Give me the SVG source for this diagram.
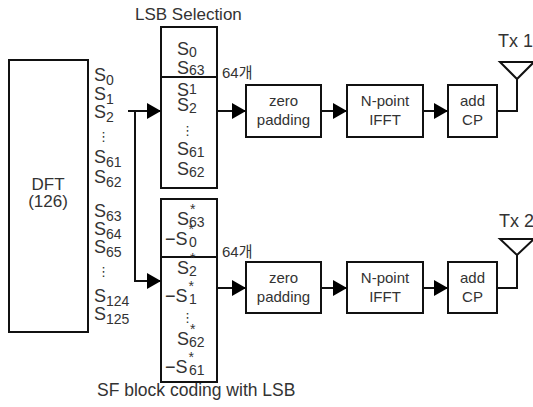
<svg xmlns="http://www.w3.org/2000/svg" width="533" height="407" viewBox="0 0 533 407">
<defs>
<marker id="ah" markerUnits="userSpaceOnUse" markerWidth="15" markerHeight="16" refX="14" refY="8" orient="auto">
<path d="M0,0 L14,8 L0,16 Z" fill="#000"/>
</marker>
<style>
text{font-family:"Liberation Sans","Noto Sans CJK KR",sans-serif;fill:#333;}
.box{fill:#fff;stroke:#111;stroke-width:2;}
.ln{fill:none;stroke:#111;stroke-width:2;}
.s{font-size:18px;}
.sub{font-size:14px;}
.bt{font-size:15px;text-anchor:middle;}
.lbl{font-size:17px;}
.dots{font-family:"DejaVu Sans",sans-serif;font-size:13px;}
.star{font-size:14px;}
</style>
</defs>
<rect width="533" height="407" fill="#fff"/>

<g id="dft">
<rect class="box" x="9" y="60" width="79" height="272"/>
<text class="lbl" x="48" y="190" text-anchor="middle">DFT</text>
<text class="lbl" x="48" y="207" text-anchor="middle">(126)</text>
</g>

<g id="dft-outputs">
<text class="s" x="94" y="81">S<tspan class="sub" dy="4">0</tspan></text>
<text class="s" x="94" y="100">S<tspan class="sub" dy="4">1</tspan></text>
<text class="s" x="94" y="118">S<tspan class="sub" dy="4">2</tspan></text>
<text class="dots" x="97" y="141">⋮</text>
<text class="s" x="94" y="163">S<tspan class="sub" dy="4">61</tspan></text>
<text class="s" x="94" y="183">S<tspan class="sub" dy="4">62</tspan></text>
<text class="s" x="94" y="217">S<tspan class="sub" dy="4">63</tspan></text>
<text class="s" x="94" y="235">S<tspan class="sub" dy="4">64</tspan></text>
<text class="s" x="94" y="253">S<tspan class="sub" dy="4">65</tspan></text>
<text class="dots" x="97" y="276">⋮</text>
<text class="s" x="94" y="302">S<tspan class="sub" dy="4">124</tspan></text>
<text class="s" x="94" y="320">S<tspan class="sub" dy="4">125</tspan></text>
</g>

<g id="lsb">
<text class="lbl" x="135" y="20">LSB Selection</text>
<rect class="box" x="161" y="27" width="56" height="161"/>
<line class="ln" x1="161" y1="77" x2="217" y2="77"/>
<text class="s" x="177" y="55">S<tspan class="sub" dy="2">0</tspan></text>
<text class="s" x="177" y="74">S<tspan class="sub" dy="1">63</tspan></text>
<text class="s" x="177" y="96">S<tspan class="sub" dy="-2">1</tspan></text>
<text class="s" x="177" y="111">S<tspan class="sub" dy="2">2</tspan></text>
<text class="dots" x="181" y="135">⋮</text>
<text class="s" x="177" y="155">S<tspan class="sub" dy="2">61</tspan></text>
<text class="s" x="177" y="175">S<tspan class="sub" dy="2">62</tspan></text>
<text x="222" y="78" font-size="15">64개</text>
</g>

<g id="sf">
<rect class="box" x="161" y="199" width="56" height="183"/>
<line class="ln" x1="161" y1="257" x2="217" y2="257"/>
<text class="s" x="177" y="225">S<tspan class="star" dx="1" dy="-11">*</tspan><tspan class="sub" x="189" dy="13">63</tspan></text>
<text class="s" x="165" y="245">−S<tspan class="star" dx="1" dy="-11">*</tspan><tspan class="sub" x="189" dy="13">0</tspan></text>
<text class="s" x="177" y="274">S<tspan class="star" dx="1" dy="-11">*</tspan><tspan class="sub" x="189" dy="13">2</tspan></text>
<text class="s" x="165" y="302">−S<tspan class="star" dx="1" dy="-11">*</tspan><tspan class="sub" x="189" dy="13">1</tspan></text>
<text class="dots" x="181" y="322">⋮</text>
<text class="s" x="177" y="345">S<tspan class="star" dx="1" dy="-11">*</tspan><tspan class="sub" x="189" dy="13">62</tspan></text>
<text class="s" x="165" y="373">−S<tspan class="star" dx="1" dy="-11">*</tspan><tspan class="sub" x="189" dy="13">61</tspan></text>
<text x="222" y="257" font-size="15">64개</text>
<text x="97" y="396" font-size="17.5">SF block coding with LSB</text>
</g>

<g id="zp1">
<rect class="box" x="246" y="85" width="75" height="52"/>
<text class="bt" x="283.5" y="106">zero</text>
<text class="bt" x="283.5" y="125">padding</text>
</g>
<g id="ifft1">
<rect class="box" x="347" y="85" width="76" height="52"/>
<text class="bt" x="385" y="106">N-point</text>
<text class="bt" x="385" y="125">IFFT</text>
</g>
<g id="cp1">
<rect class="box" x="448" y="85" width="49" height="52"/>
<text class="bt" x="472.5" y="106">add</text>
<text class="bt" x="472.5" y="125">CP</text>
</g>
<g id="ant1">
<path class="ln" d="M500,62 L534,62 L517,79 Z"/>
<text x="498" y="47" font-size="18">Tx 1</text>
</g>

<g id="zp2">
<rect class="box" x="246" y="262" width="75" height="51"/>
<text class="bt" x="283.5" y="283">zero</text>
<text class="bt" x="283.5" y="302">padding</text>
</g>
<g id="ifft2">
<rect class="box" x="347" y="262" width="76" height="51"/>
<text class="bt" x="385" y="283">N-point</text>
<text class="bt" x="385" y="302">IFFT</text>
</g>
<g id="cp2">
<rect class="box" x="448" y="262" width="49" height="51"/>
<text class="bt" x="472.5" y="283">add</text>
<text class="bt" x="472.5" y="302">CP</text>
</g>
<g id="ant2">
<path class="ln" d="M500,239 L534,239 L517,255 Z"/>
<text x="499" y="227" font-size="18">Tx 2</text>
</g>

<g id="connectors">
<line class="ln" x1="128" y1="111" x2="161" y2="111" marker-end="url(#ah)"/>
<polyline class="ln" points="135,111 135,281 161,281" marker-end="url(#ah)"/>
<line class="ln" x1="217" y1="111" x2="246" y2="111" marker-end="url(#ah)"/>
<line class="ln" x1="321" y1="111" x2="347" y2="111" marker-end="url(#ah)"/>
<line class="ln" x1="423" y1="111" x2="448" y2="111" marker-end="url(#ah)"/>
<polyline class="ln" points="497,111 517,111 517,79"/>
<line class="ln" x1="217" y1="288" x2="246" y2="288" marker-end="url(#ah)"/>
<line class="ln" x1="321" y1="288" x2="347" y2="288" marker-end="url(#ah)"/>
<line class="ln" x1="423" y1="288" x2="448" y2="288" marker-end="url(#ah)"/>
<polyline class="ln" points="497,288 517,288 517,255"/>
</g>
</svg>
